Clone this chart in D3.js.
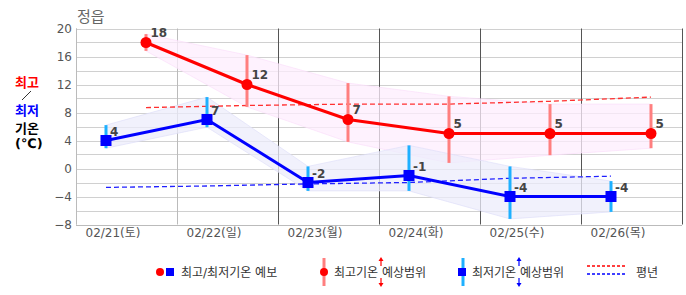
<!DOCTYPE html>
<html><head><meta charset="utf-8">
<script src="https://cdn.jsdelivr.net/npm/d3@7"></script>
<style>
body{margin:0;background:#fff;}
text{font-family:"DejaVu Sans","Noto Sans CJK KR",sans-serif;}
</style></head>
<body><svg id="c" width="686" height="295"></svg>
<script>
const title = "정읍";
const days = ["02/21(토)","02/22(일)","02/23(월)","02/24(화)","02/25(수)","02/26(목)"];
const highs = [18,12,7,5,5,5];
const lows = [4,7,-2,-1,-4,-4];
const highRangeTop = [19.2,16.2,12.2,10.3,9.2,9.2];
const highRangeBot = [16.8,8.8,3.8,0.8,1.9,2.9];
const lowRangeTop = [6.2,10.2,0.3,3.3,0.3,-1.8];
const lowRangeBot = [2.9,5.9,-3.2,-3.2,-7.2,-6.2];
const normalHigh = [8.7,9.0,9.2,9.2,9.6,10.2];
const normalLow = [-2.7,-2.5,-2.2,-2.0,-1.4,-1.1];
const yTicks = [20,16,12,8,4,0,-4,-8];
const yGrid = [20,18,16,14,12,10,8,6,4,2,0,-2,-4,-6,-8];
const lowOffset = 0.297, highOffset = 0.693;

const svg = d3.select("#c");
const L=76, R=682, T=28.5, B=224.5;
const x = d3.scaleLinear().domain([0,6]).range([L,R]);
const y = d3.scaleLinear().domain([-8,20]).range([B,T]);

// horizontal grid
svg.append("g").selectAll("line").data(yGrid).join("line")
  .attr("x1",L).attr("x2",R).attr("y1",d=>Math.round(y(d))+0.5).attr("y2",d=>Math.round(y(d))+0.5)
  .attr("stroke","#d0d0d0").attr("stroke-width",1);
// vertical day lines
svg.append("g").selectAll("line").data(d3.range(0,7)).join("line")
  .attr("x1",d=>Math.round(x(d))+0.5).attr("x2",d=>Math.round(x(d))+0.5)
  .attr("y1",T).attr("y2",B)
  .attr("stroke",d=>d<=1?"#bbbbbb":"#555555").attr("stroke-width",1);

// bands
const hx = i=>x(i+highOffset), lx = i=>x(i+lowOffset);
const idx = d3.range(6);
const bandPts = (xf, top, bot) => idx.map(i=>[xf(i),y(top[i])]).concat(idx.slice().reverse().map(i=>[xf(i),y(bot[i])]));
svg.append("path").attr("d", d3.line()(bandPts(hx,highRangeTop,highRangeBot))+"Z")
  .attr("fill","#fdeefd").attr("fill-opacity",0.75).attr("stroke","#fadcfa").attr("stroke-opacity",0.6);
svg.append("path").attr("d", d3.line()(bandPts(lx,lowRangeTop,lowRangeBot))+"Z")
  .attr("fill","#ececfb").attr("fill-opacity",0.75).attr("stroke","#dcdcf8").attr("stroke-opacity",0.6);

// normal lines
svg.append("path").attr("d", d3.line()(idx.map(i=>[hx(i),y(normalHigh[i])])))
  .attr("fill","none").attr("stroke","#ff3030").attr("stroke-width",1.3).attr("stroke-dasharray","5,3");
svg.append("path").attr("d", d3.line()(idx.map(i=>[lx(i),y(normalLow[i])])))
  .attr("fill","none").attr("stroke","#2020ff").attr("stroke-width",1.3).attr("stroke-dasharray","5,3");

// range bars
svg.append("g").selectAll("line").data(idx).join("line")
  .attr("x1",hx).attr("x2",hx).attr("y1",i=>y(highRangeTop[i])).attr("y2",i=>y(highRangeBot[i]))
  .attr("stroke","#ff7f7f").attr("stroke-width",3);
svg.append("g").selectAll("line").data(idx).join("line")
  .attr("x1",lx).attr("x2",lx).attr("y1",i=>y(lowRangeTop[i])).attr("y2",i=>y(lowRangeBot[i]))
  .attr("stroke","#1eb0ff").attr("stroke-width",3);

// main lines
svg.append("path").attr("d", d3.line()(idx.map(i=>[hx(i),y(highs[i])])))
  .attr("fill","none").attr("stroke","#ff0000").attr("stroke-width",3);
svg.append("path").attr("d", d3.line()(idx.map(i=>[lx(i),y(lows[i])])))
  .attr("fill","none").attr("stroke","#0000ff").attr("stroke-width",3);
svg.append("g").selectAll("circle").data(idx).join("circle")
  .attr("cx",hx).attr("cy",i=>y(highs[i])).attr("r",5.5).attr("fill","#ff0000");
svg.append("g").selectAll("rect").data(idx).join("rect")
  .attr("x",i=>lx(i)-5.5).attr("y",i=>y(lows[i])-5.5).attr("width",11).attr("height",11).attr("fill","#0000ff");

// value labels
svg.append("g").selectAll("text").data(idx).join("text")
  .attr("x",i=>hx(i)+4.5).attr("y",i=>y(highs[i])-6).text(i=>highs[i])
  .attr("font-size",12).attr("font-weight","bold").attr("fill","#444");
svg.append("g").selectAll("text").data(idx).join("text")
  .attr("x",i=>lx(i)+4).attr("y",i=>y(lows[i])-5).text(i=>lows[i])
  .attr("font-size",12).attr("font-weight","bold").attr("fill","#444");

// axes lines
svg.append("line").attr("x1",L+0.5).attr("x2",L+0.5).attr("y1",T).attr("y2",B).attr("stroke","#bbb");
svg.append("line").attr("x1",L).attr("x2",R).attr("y1",Math.round(B)+0.5).attr("y2",Math.round(B)+0.5).attr("stroke","#bbb");

// y tick labels
svg.append("g").selectAll("text").data(yTicks).join("text")
  .attr("x",72).attr("y",d=>y(d)+4.5).attr("text-anchor","end")
  .attr("font-size",12).attr("fill","#555").text(d=>d<0?"\u2212"+Math.abs(d):d);
// x labels
svg.append("g").selectAll("text").data(days).join("text")
  .attr("x",(d,i)=>x(i)+37).attr("y",237).attr("text-anchor","middle")
  .attr("font-size",12).attr("fill","#555").text(d=>d);

// title
svg.append("text").attr("x",77).attr("y",22).attr("font-size",15).attr("fill","#666").text(title);

// left label
svg.append("text").attr("x",15).attr("y",87).attr("font-size",13).attr("font-weight","bold").attr("fill","#ff0000").text("최고");
svg.append("line").attr("x1",22).attr("y1",100).attr("x2",31).attr("y2",91).attr("stroke","#000").attr("stroke-width",0.8);
svg.append("text").attr("x",15).attr("y",115).attr("font-size",13).attr("font-weight","bold").attr("fill","#0000ff").text("최저");
svg.append("text").attr("x",15).attr("y",133).attr("font-size",13).attr("font-weight","bold").attr("fill","#000").text("기온");
svg.append("text").attr("x",15).attr("y",148).attr("font-size",13).attr("font-weight","bold").attr("fill","#000").text("(℃)");

// legend
const lg = svg.append("g");
const ly = 272;
lg.append("circle").attr("cx",160).attr("cy",ly).attr("r",4).attr("fill","#ff0000");
lg.append("rect").attr("x",166).attr("y",ly-4).attr("width",8).attr("height",8).attr("fill","#0000ff");
lg.append("text").attr("x",181).attr("y",ly+4.5).attr("font-size",12).attr("fill","#333").text("최고/최저기온 예보");

lg.append("line").attr("x1",324).attr("x2",324).attr("y1",258).attr("y2",286).attr("stroke","#ff7f7f").attr("stroke-width",3);
lg.append("circle").attr("cx",324).attr("cy",ly).attr("r",4).attr("fill","#ff0000");
function arrows(cx,color){
  lg.append("line").attr("x1",cx).attr("x2",cx).attr("y1",259).attr("y2",266).attr("stroke",color).attr("stroke-width",1.2);
  lg.append("path").attr("d",`M${cx-2.5},${261}L${cx},${257}L${cx+2.5},${261}Z`).attr("fill",color);
  lg.append("line").attr("x1",cx).attr("x2",cx).attr("y1",278).attr("y2",285).attr("stroke",color).attr("stroke-width",1.2);
  lg.append("path").attr("d",`M${cx-2.5},${283}L${cx},${287}L${cx+2.5},${283}Z`).attr("fill",color);
}
arrows(381,"#ff0000");
lg.append("text").attr("x",334).attr("y",ly+4.5).attr("font-size",12).attr("fill","#333").text("최고기온 예상범위");

lg.append("line").attr("x1",463).attr("x2",463).attr("y1",258).attr("y2",286).attr("stroke","#1eb0ff").attr("stroke-width",3);
lg.append("rect").attr("x",458).attr("y",ly-4).attr("width",8).attr("height",8).attr("fill","#0000ff");
arrows(519,"#0000ff");
lg.append("text").attr("x",472).attr("y",ly+4.5).attr("font-size",12).attr("fill","#333").text("최저기온 예상범위");

lg.append("line").attr("x1",587).attr("x2",625).attr("y1",266).attr("y2",266).attr("stroke","#ff0000").attr("stroke-width",1.5).attr("stroke-dasharray","3,2");
lg.append("line").attr("x1",587).attr("x2",625).attr("y1",274).attr("y2",274).attr("stroke","#0000ff").attr("stroke-width",1.5).attr("stroke-dasharray","3,2");
lg.append("text").attr("x",636).attr("y",ly+4.5).attr("font-size",12).attr("fill","#333").text("평년");
</script></body></html>
